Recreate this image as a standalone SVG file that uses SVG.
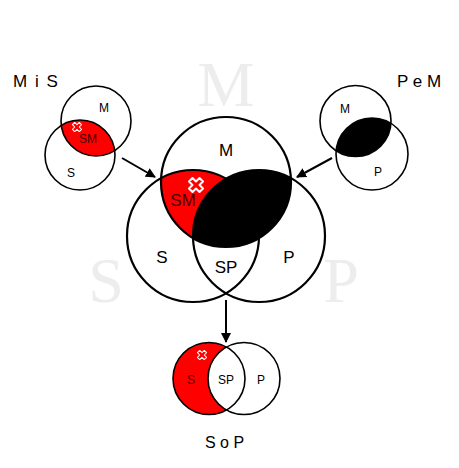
<svg xmlns="http://www.w3.org/2000/svg" width="459" height="468" viewBox="0 0 459 468">
<style>
.c{fill:none;stroke:#000}
.cm{stroke-width:2.2}
.cs{stroke-width:1.6}
.t{font-family:"Liberation Sans",Arial,sans-serif;fill:#000;text-anchor:middle}
.tt{font-family:"Liberation Sans",Arial,sans-serif;fill:#000;text-anchor:start}
.wm{font-family:"Liberation Serif","Times New Roman",serif;fill:#ededed;text-anchor:middle;font-size:64px}
.x{fill:none;stroke:#fff;stroke-linejoin:round}
.conn{stroke:#000;stroke-width:2;fill:none;marker-end:url(#ah)}
</style>
<defs>
<marker id="ah" viewBox="0 0 10 10" refX="9" refY="5" markerWidth="5" markerHeight="5" orient="auto" markerUnits="strokeWidth">
<path d="M0,0 L10,5 L0,10 z" fill="#000"/>
</marker>
<polygon id="xm" points="0,-3.5 3.5,-7 7,-3.5 3.5,0 7,3.5 3.5,7 0,3.5 -3.5,7 -7,3.5 -3.5,0 -7,-3.5 -3.5,-7"/>
<clipPath id="clM"><circle cx="226" cy="182" r="65"/></clipPath>
<clipPath id="clLM"><circle cx="96" cy="121" r="35"/></clipPath>
<clipPath id="clRM"><circle cx="355.5" cy="121" r="35.5"/></clipPath>
</defs>
<g id="watermarks">
<text class="wm" x="226" y="106">M</text>
<text class="wm" x="106" y="302">S</text>
<text class="wm" x="341" y="302">P</text>
</g>
<g id="mis">
<circle cx="80" cy="155" r="35" fill="#ff0000" clip-path="url(#clLM)"/>
<circle class="c cs" cx="96" cy="121" r="35"/>
<circle class="c cs" cx="80" cy="155" r="35"/>
<use href="#xm" class="x" transform="translate(77,127) scale(0.65)" stroke-width="1.6"/>
<text class="t" x="88" y="143" font-size="12" style="fill:#4a0000">SM</text>
<text class="t" x="104" y="112" font-size="12">M</text>
<text class="t" x="71" y="177" font-size="12">S</text>
<text class="tt" x="13" y="87" font-size="17" letter-spacing="1.5">M i S</text>
</g>
<g id="pem">
<circle cx="372" cy="154" r="36" fill="#000" clip-path="url(#clRM)"/>
<circle class="c cs" cx="355.5" cy="121" r="35.5"/>
<circle class="c cs" cx="372" cy="154" r="36"/>
<text class="t" x="345" y="113" font-size="12">M</text>
<text class="t" x="378" y="176" font-size="12">P</text>
<text class="tt" x="397" y="87" font-size="17">P e M</text>
</g>
<g id="main">
<circle cx="193" cy="236" r="66" fill="#ff0000" clip-path="url(#clM)"/>
<circle cx="259" cy="236" r="66" fill="#000" clip-path="url(#clM)"/>
<circle class="c cm" cx="226" cy="182" r="65"/>
<circle class="c cm" cx="193" cy="236" r="66"/>
<circle class="c cm" cx="259" cy="236" r="66"/>
<use href="#xm" class="x" transform="translate(196,185)" stroke-width="2"/>
<text class="t" x="183" y="206" font-size="17" style="fill:#4a0000">SM</text>
<text class="t" x="226" y="156" font-size="17">M</text>
<text class="t" x="162" y="263" font-size="17">S</text>
<text class="t" x="289" y="263" font-size="17">P</text>
<text class="t" x="226" y="273" font-size="17">SP</text>
</g>
<g id="sop">
<circle cx="209" cy="378.5" r="36" fill="#ff0000"/>
<circle cx="244" cy="378.5" r="36" fill="#fff"/>
<circle class="c cs" cx="209" cy="378.5" r="36"/>
<circle class="c cs" cx="244" cy="378.5" r="36"/>
<use href="#xm" class="x" transform="translate(202,355) scale(0.65)" stroke-width="1.6"/>
<text class="t" x="191" y="384" font-size="12" style="fill:#4a0000">S</text>
<text class="t" x="226" y="384" font-size="12">SP</text>
<text class="t" x="261" y="384" font-size="12">P</text>
<text class="tt" x="205" y="448" font-size="16">S o P</text>
</g>
<g id="connectors">
<line class="conn" x1="122" y1="158" x2="155" y2="177"/>
<line class="conn" x1="332" y1="158" x2="297" y2="177"/>
<line class="conn" x1="226" y1="300" x2="226" y2="342"/>
</g>
</svg>
